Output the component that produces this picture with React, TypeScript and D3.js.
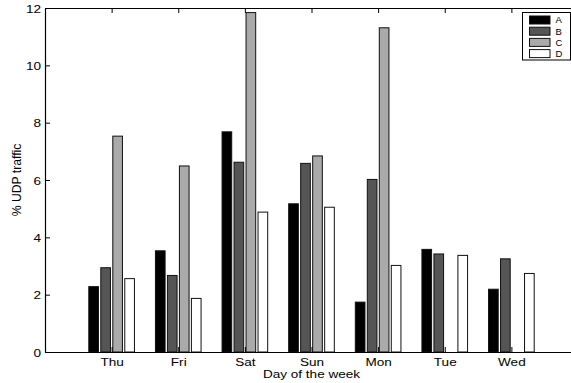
import React, { useRef, useEffect } from "react";
import * as d3 from "d3";

// days shown on the x axis
const days = ["Thu", "Fri", "Sat", "Sun", "Mon", "Tue", "Wed"];
const seriesNames = ["A", "B", "C", "D"];
const seriesColors = ["#000000", "#555555", "#aaaaaa", "#ffffff"];

// % UDP traffic per day, one array per series
const valuesA = [2.28, 3.53, 7.68, 5.17, 1.74, 3.58, 2.19];
const valuesB = [2.94, 2.67, 6.62, 6.58, 6.02, 3.42, 3.25];
const valuesC = [7.53, 6.49, 11.84, 6.84, 11.31, 0, 0];
const valuesD = [2.56, 1.87, 4.88, 5.05, 3.02, 3.37, 2.74];

const yTicks = [0, 2, 4, 6, 8, 10, 12];

const App = () => {
	const chartRef = useRef<SVGSVGElement>(null);

	useEffect(() => {
		const width = 571;
		const height = 383;
		const margin = { top: 8, right: -7, bottom: 31, left: 45 };
		const font = "'Liberation Sans', Arial, Helvetica, sans-serif";
		// the original's text is a bit wider than Arial
		const stretch = 1.18;

		const svg = d3.select(chartRef.current);
		svg.selectAll("*").remove();
		svg.attr("width", width).attr("height", height);

		const series = [valuesA, valuesB, valuesC, valuesD];

		// category positions 1..7, axis limits 0..8 like the original
		const xScale = d3.scaleLinear()
			.domain([0, days.length + 1])
			.range([margin.left, width - margin.right]);

		const yScale = d3.scaleLinear()
			.domain([0, 12])
			.range([height - margin.bottom, margin.top]);

		const step = 0.18;
		const barW = 0.145;

		// bars
		series.forEach((vals, si) => {
			svg.append("g")
				.selectAll("rect")
				.data(vals)
				.enter()
				.filter(d => d > 0)
				.append("rect")
				.attr("x", (d, i) => xScale(i + 1 + (si - 1.5) * step - barW / 2))
				.attr("y", d => yScale(d))
				.attr("width", xScale(barW) - xScale(0))
				.attr("height", d => yScale(0) - yScale(d))
				.attr("fill", seriesColors[si])
				.attr("stroke", "#111")
				.attr("stroke-width", 1);
		});

		// axes, ticks pointing inward
		const xAxis = d3.axisBottom(xScale)
			.tickValues(d3.range(1, days.length + 1))
			.tickFormat((d: any) => days[d - 1])
			.tickSizeInner(-5)
			.tickSizeOuter(0)
			.tickPadding(6);

		const gx = svg.append("g")
			.attr("transform", `translate(0, ${yScale(0)})`)
			.call(xAxis);

		const gTop = svg.append("g")
			.attr("transform", `translate(0, ${yScale(12)})`)
			.call(d3.axisTop(xScale)
				.tickValues(d3.range(1, days.length + 1))
				.tickFormat(() => "")
				.tickSizeInner(-5)
				.tickSizeOuter(0));

		const gy = svg.append("g")
			.attr("transform", `translate(${xScale(0)}, 0)`)
			.call(d3.axisLeft(yScale)
				.tickValues(yTicks)
				.tickSizeInner(-5)
				.tickSizeOuter(0)
				.tickPadding(4));

		[gx, gTop, gy].forEach(g => {
			g.selectAll("text")
				.attr("font-family", font)
				.attr("font-size", 11.5)
				.attr("fill", "#000");
			g.selectAll("line").attr("stroke", "#000");
			g.select(".domain").attr("stroke", "#000").attr("stroke-width", 1.2);
		});
		gx.selectAll("text").attr("transform", `scale(${stretch},1)`);
		gy.selectAll("text")
			.attr("dy", "0.35em")
			.attr("x", -4 / stretch)
			.attr("transform", `scale(${stretch},1)`);

		// axis labels
		svg.append("text")
			.attr("transform", `translate(${(xScale(0) + xScale(days.length + 1)) / 2}, 378) scale(${stretch},1)`)
			.attr("text-anchor", "middle")
			.attr("font-family", font)
			.attr("font-size", 11.5)
			.text("Day of the week");

		svg.append("text")
			.attr("transform", `translate(20.5, ${(yScale(0) + yScale(12)) / 2}) rotate(-90)`)
			.attr("text-anchor", "middle")
			.attr("font-family", font)
			.attr("font-size", 12.2)
			.text("% UDP traffic");

		// legend
		const legend = svg.append("g").attr("transform", "translate(522.5, 12.5)");
		legend.append("rect")
			.attr("width", 48)
			.attr("height", 47.5)
			.attr("fill", "#fff")
			.attr("stroke", "#000");

		seriesNames.forEach((name, i) => {
			const row = legend.append("g").attr("transform", `translate(0, ${7.5 + i * 11.2})`);
			row.append("rect")
				.attr("x", 7)
				.attr("y", -4)
				.attr("width", 20.5)
				.attr("height", 8)
				.attr("fill", seriesColors[i])
				.attr("stroke", "#111");
			row.append("text")
				.attr("x", 33)
				.attr("y", 0)
				.attr("dy", "0.35em")
				.attr("font-family", font)
				.attr("font-size", 9.5)
				.text(name);
		});
	}, []);

	return <svg ref={chartRef} style={{ position: "absolute", left: 0, top: 0 }}></svg>;
};

export default App;
